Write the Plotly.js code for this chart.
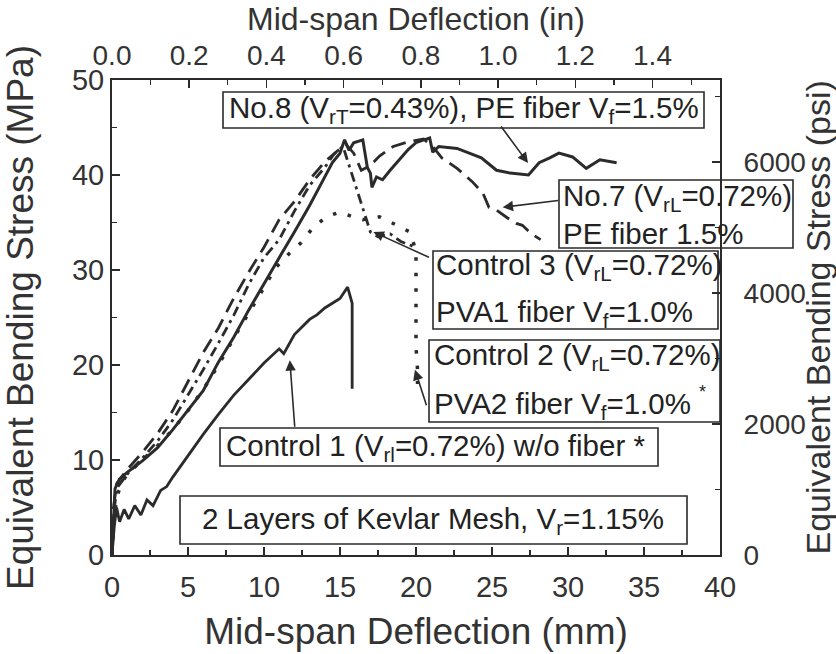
<!DOCTYPE html>
<html>
<head>
<meta charset="utf-8">
<script src="https://cdn.plot.ly/plotly-3.0.1.min.js"></script>
<style>html,body{margin:0;padding:0;background:#fff;}#chart{width:836px;height:654px;}</style>
</head>
<body>
<div id="chart"></div>
<script>
// ---- Data (mid-span deflection in mm, equivalent bending stress in MPa) ----
var no8_x = [0,0.1,0.2,0.5,1,2,3,4,5,6,7,8,9,10,11,12,13,14,14.5,15,15.3,15.6,15.9,16.5,16.8,17,17.1,17.4,17.8,18.3,18.9,19.5,20,20.9,21.1,21.5,22.7,23.5,24.3,25.3,26.2,27.4,28.1,28.8,29.4,30.3,31.2,32.1,33.2];
var no8_y = [0,4,7,8,8.7,9.9,11.3,13.2,15.3,17.3,20.3,22.9,25.8,28.6,31.3,34,36.8,39.8,41.3,42.3,43.7,42.6,43.4,43.7,40.8,40.2,38.7,39.8,39.5,40.5,41.6,42.7,43.4,43.9,42.4,43,42.8,42.3,41.8,40.5,40.2,40,41.3,41.8,42.3,41.9,40.7,41.6,41.3];

var no7_x = [0,0.1,0.3,1,2,3,4,5,6,7,8,9,10,11,12,13,14,14.8,15.4,15.9,16.4,17,17.6,18.5,19.5,20.5,21.2,21.7,22.7,23.7,24.4,24.8,25.3,26,26.6,27,27.6,28.2];
var no7_y = [0,5,7.5,9,10.8,12.8,15.2,18.2,21.3,23.9,27,29.8,32.4,35.3,37.2,39.5,41.4,42.5,43.2,42.3,40.5,41,42,43,43.5,43.8,42.8,41.8,40.7,39.3,38.1,36.6,36.3,35.5,34.9,34.7,33.8,33.2];

var c3_x = [0,0.1,0.3,1,2,3,4,5,6,7,8,9,10,11,12,13,14,14.6,15.2,15.6,15.9,16.2,16.6,17,17.5,18.3,19,19.8];
var c3_y = [0,4,7,8.5,10.2,12,14.2,16.8,19.5,22.3,25.2,28.5,31.3,33.2,36.2,38.9,40.8,42.2,43,41,39.5,38,36,34,33.5,33.8,33,32.5];

var c2_x = [0,0.1,0.3,0.6,1,2,3,4,5,6,7,8,9,10,10.8,11.7,12.4,13.2,14.1,15,16,16.5,17.6,18.5,19.6,20,20,20,20,20.1,20.1];
var c2_y = [0,3,6,7.5,8.5,10,11.5,13.2,15.2,17.4,20,22.8,25.5,28.2,30.3,31.8,32.8,34.4,35.6,36.1,35.5,35.3,35.6,34.9,34,32,28,24,21.9,19.5,18];

var c1_x = [0,0.15,0.3,0.5,0.8,1.1,1.5,1.9,2.3,2.7,3.2,3.6,4,5,6,7,8,9,10,11,11.3,12,13,13.5,14,15,15.5,15.8,15.8];
var c1_y = [0,3,5,3.5,4.8,3.8,5.2,4.2,5.8,5.2,6.8,7.2,8.2,10.5,12.7,14.8,16.8,18.5,20.2,21.7,21.2,23.2,24.8,25.3,26,27,28.2,26.5,17.5];

var MM_PER_IN = 25.4;
var PSI_PER_MPA = 145.038;
var X_MAX_MM = 40, Y_MAX_MPA = 50;

var FONT = 'Liberation Sans, Arial, sans-serif';
var ink = '#2b2b2b';
function tr(x, y, dash, w) {
  return {x: x, y: y, type: 'scatter', mode: 'lines', showlegend: false,
          line: {color: ink, width: w || 2.8, dash: dash}, hoverinfo: 'skip'};
}
var data = [
  tr(no8_x, no8_y, 'solid', 3),
  tr(no7_x, no7_y, '15px,8px', 2.8),
  tr(c3_x, c3_y, '10px,5px,3px,5px', 2.8),
  tr(c2_x, c2_y, '3.5px,12px', 3.5),
  tr(c1_x, c1_y, 'solid', 2.8),
  {x: [], y: [], xaxis: 'x2', yaxis: 'y2', type: 'scatter', showlegend: false}
];

// pixel helpers for boxes (plot area: l=112, r=720, t=80, b=555)
var L = 112, R = 720, T = 80, B = 555;
function px(p) { return (p - L) / (R - L); }
function py(p) { return (B - p) / (B - T); }
function box(x0, y0, x1, y1) {
  return {type: 'rect', xref: 'paper', yref: 'paper', x0: px(x0), x1: px(x1), y0: py(y1), y1: py(y0),
          line: {color: ink, width: 1.6}, fillcolor: 'rgba(0,0,0,0)', layer: 'above'};
}
var FS = 29.5;
function txt(text, x, y, anchor) {
  return {text: text, xref: 'paper', yref: 'paper', x: px(x), y: py(y), xanchor: anchor || 'left', yanchor: 'middle',
          showarrow: false, font: {size: FS, color: '#222', family: FONT}};
}
function arrow(tipx, tipy, ax, ay) {
  return {text: '', x: tipx, y: tipy, xref: 'x', yref: 'y', ax: ax, ay: ay, showarrow: true,
          arrowhead: 2, arrowsize: 1.3, arrowwidth: 1.6, arrowcolor: ink};
}

var shapes = [
  box(223, 92, 704, 128),
  box(559, 180, 793, 248),
  box(433, 251, 718, 329),
  box(429, 340, 720, 422),
  box(220, 428, 658, 466),
  box(180, 496, 687, 544)
];
var annotations = [
  txt('No.8 (V<sub>rT</sub>=0.43%), PE fiber V<sub>f</sub>=1.5%', 227, 110),
  txt('No.7 (V<sub>rL</sub>=0.72%)', 561, 197),
  txt('PE fiber 1.5%', 561, 233),
  txt('Control 3 (V<sub>rL</sub>=0.72%)', 434, 266),
  txt('PVA1 fiber V<sub>f</sub>=1.0%', 434, 313),
  txt('Control 2 (V<sub>rL</sub>=0.72%)', 432, 356),
  txt('PVA2 fiber V<sub>f</sub>=1.0%', 432, 405),
  {text: '*', xref: 'paper', yref: 'paper', x: px(708), y: py(392), showarrow: false, font: {size: 18, color: '#222', family: FONT}},
  txt('Control 1 (V<sub>rl</sub>=0.72%) w/o fiber *', 224, 447),
  txt('2 Layers of Kevlar Mesh, V<sub>r</sub>=1.15%', 200, 520),
  arrow(27.37, 41.26, -28, -38),
  arrow(25.7, 36.6, 57, -7),
  arrow(17.2, 34.0, 57, 26),
  arrow(19.93, 19.5, 12, 37),
  arrow(11.7, 20.5, 5, 68),
  {text: 'Mid-span Deflection (in)', xref: 'paper', yref: 'paper', x: 0.5, y: py(19),
   xanchor: 'center', yanchor: 'middle', showarrow: false,
   font: {size: 32, color: '#333', family: FONT}},
  {text: 'Equivalent Bending Stress (psi)', xref: 'paper', yref: 'paper', x: px(817), y: 0.5,
   xanchor: 'center', yanchor: 'middle', textangle: -90, showarrow: false,
   font: {size: 34, color: '#333', family: FONT}}
];

var tickFont = {size: 29, color: '#333', family: FONT};
var titleFont = {size: 37, color: '#333', family: FONT};
var common = {ticks: 'inside', ticklen: 8, tickwidth: 1.5, tickcolor: ink, showline: true, linecolor: ink, linewidth: 2,
              showgrid: false, zeroline: false, tickfont: tickFont};

var layout = {
  width: 836, height: 654,
  margin: {l: L, r: 836 - R, t: T, b: 654 - B, pad: 0},
  paper_bgcolor: '#fff', plot_bgcolor: '#fff',
  font: {family: FONT, color: '#222'},
  xaxis: Object.assign({}, common, {range: [0, X_MAX_MM], dtick: 5, tick0: 0, ticklabelstandoff: 5,
    minor: {dtick: 2.5, ticks: 'inside', ticklen: 5, tickcolor: ink, tickwidth: 1.2},
    title: {text: 'Mid-span Deflection (mm)', font: titleFont, standoff: 16}}),
  xaxis2: Object.assign({}, common, {overlaying: 'x', side: 'top', anchor: 'y', range: [0, X_MAX_MM / MM_PER_IN],
    dtick: 0.2, tick0: 0, tickformat: '.1f', ticklabelstandoff: 2, tickfont: {size: 28, color: '#333', family: FONT},
    minor: {dtick: 0.1, ticks: 'inside', ticklen: 5, tickcolor: ink, tickwidth: 1.2}}),
  yaxis: Object.assign({}, common, {range: [0, Y_MAX_MPA], dtick: 10, tick0: 0,
    minor: {dtick: 5, ticks: 'inside', ticklen: 5, tickcolor: ink, tickwidth: 1.2},
    title: {text: 'Equivalent Bending Stress (MPa)', font: titleFont, standoff: 32}}),
  yaxis2: Object.assign({}, common, {overlaying: 'y', side: 'right', anchor: 'x', range: [0, Y_MAX_MPA * PSI_PER_MPA],
    dtick: 2000, tick0: 0, ticklabelstandoff: 16, tickfont: {size: 28, color: '#333', family: FONT},
    minor: {dtick: 1000, ticks: 'inside', ticklen: 5, tickcolor: ink, tickwidth: 1.2}}),
  shapes: shapes,
  annotations: annotations
};

Plotly.newPlot('chart', data, layout, {staticPlot: true, displayModeBar: false});
</script>
</body>
</html>
